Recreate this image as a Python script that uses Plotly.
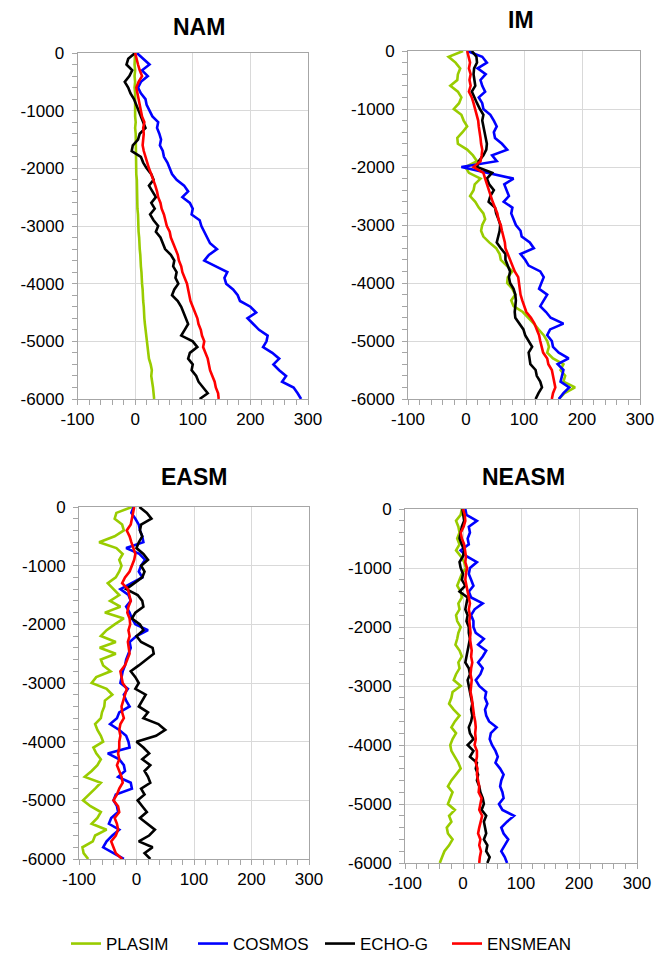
import plotly.graph_objects as go

depth = [-100 * i for i in range(61)]

series_names = ["PLASIM", "COSMOS", "ECHO-G", "ENSMEAN"]
series_colors = ["#99cc00", "#0000ff", "#000000", "#ff0000"]

# ---- NAM ----
nam_plasim = [0, -1, -1, 0, -1, 0, -1, 0, 0, -1, 0,
              0, 1, 0, 1, 1, 1, 2, 1, 2, 2,
              2, 3, 3, 3, 4, 4, 4, 5, 5, 6,
              6, 7, 7, 8, 9, 9, 10, 11, 11, 12,
              13, 13, 14, 15, 15, 16, 17, 18, 19, 21,
              21, 23, 24, 27, 29, 28, 30, 31, 32, 33]
nam_cosmos = [3, 15, 25, 12, 22, 10, 5, 10, 18, 20, 25,
              30, 40, 38, 42, 45, 43, 48, 50, 56, 60,
              64, 72, 85, 92, 82, 95, 100, 98, 112, 115,
              120, 125, 130, 142, 128, 120, 140, 160, 155, 158,
              170, 178, 182, 200, 210, 195, 205, 215, 230, 228,
              222, 238, 250, 240, 250, 262, 255, 275, 282, 288]
nam_echog = [0, -12, -15, -5, -10, -18, -12, -8, -2, 2, 6,
             10, 14, 18, 8, 5, -4, -6, 10, 14, 20,
             28, 32, 24, 30, 36, 28, 34, 26, 32, 40,
             36, 44, 48, 52, 62, 68, 66, 72, 70, 75,
             68, 64, 74, 80, 84, 88, 92, 86, 80, 100,
             108, 95, 92, 100, 98, 106, 110, 118, 126, 112]
nam_ensmean = [0, 2, 5, 8, 12, 6, 2, 4, 6, 8, 9,
               12, 16, 14, 15, 14, 13, 15, 18, 20, 24,
               28, 32, 35, 38, 40, 44, 46, 50, 52, 55,
               60, 62, 66, 70, 74, 76, 80, 82, 86, 90,
               92, 94, 96, 100, 104, 108, 110, 114, 116, 120,
               118, 122, 126, 128, 130, 134, 138, 140, 144, 145]

# ---- IM ----
im_plasim = [-5, -30, -18, -10, -14, -15, -27, -14, -8, -12, -21,
             -8, -4, 2, -6, -15, -14, 2, 12, 19, -1,
             5, 25, 15, 13, 7, 16, 22, 30, 33, 28,
             26, 30, 40, 52, 58, 60, 70, 80, 72, 71,
             80, 85, 78, 82, 98, 108, 117, 125, 134, 140,
             143, 140, 150, 168, 163, 171, 168, 188, 170, 160]
im_cosmos = [2, 28, 36, 20, 34, 25, 28, 33, 22, 28, 30,
             42, 48, 53, 48, 50, 62, 71, 45, 53, -8,
             40, 82, 66, 70, 74, 65, 80, 78, 82, 86,
             94, 96, 110, 117, 94, 102, 108, 128, 134, 130,
             126, 140, 134, 128, 138, 146, 168, 145, 140, 148,
             150, 160, 177, 158, 168, 165, 163, 178, 168, 160]
im_echog = [10, 18, 19, 14, 13, 15, 16, 10, 14, 19, 24,
            30, 28, 30, 33, 34, 36, 35, 30, 22, 19,
            45, 36, 40, 48, 42, 39, 50, 52, 56, 59,
            58, 56, 53, 60, 68, 68, 72, 76, 74, 76,
            82, 85, 86, 85, 84, 85, 92, 99, 102, 108,
            114, 108, 110, 111, 120, 122, 128, 131, 125, 120]
im_ensmean = [2, 5, 7, 5, 8, 6, 8, 5, 10, 13, 16,
              19, 21, 22, 24, 25, 26, 28, 27, 25, 13,
              30, 33, 36, 39, 43, 46, 50, 54, 56, 60,
              62, 65, 67, 68, 72, 76, 80, 84, 90, 91,
              92, 94, 97, 100, 104, 112, 118, 122, 126, 128,
              130, 133, 140, 142, 148, 150, 151, 154, 150, 148]

# ---- EASM ----
easm_plasim = [-8, -35, -38, -25, -22, -38, -65, -35, -24, -30, -26,
               -30, -36, -50, -40, -30, -46, -28, -55, -22, -38,
               -52, -62, -36, -64, -36, -62, -58, -45, -70, -78,
               -52, -42, -55, -56, -60, -62, -72, -68, -62, -58,
               -75, -70, -62, -68, -78, -90, -62, -72, -82, -93,
               -80, -62, -68, -78, -52, -72, -76, -94, -92, -84]
easm_cosmos = [-5, -9, -2, 4, 6, 10, 12, -18, 5, 15, 8,
               4, 10, -10, -28, -14, -10, -18, -12, -8, -2,
               20, 0, -12, -10, -14, -18, -20, -24, -26, -28,
               -15, -22, -18, -12, -30, -34, -46, -30, -18, -14,
               -12, -50, -30, -22, -20, -32, -10, -8, -36, -40,
               -34, -32, -44, -48, -30, -42, -52, -58, -40, -22]
easm_echog = [5, 18, 26, 8, 6, 10, 4, 0, 12, 20, 8,
              14, 10, -5, -18, 2, 10, 12, -2, -8, 6,
              12, 0, 8, 28, 30, 18, 4, -10, -2, 4,
              -2, 16, 10, 4, 20, 12, 38, 50, 34, 0,
              12, 22, 10, 24, 14, 20, 24, 8, 14, 2,
              10, 18, 6, 20, 32, 22, 4, 28, 14, 24]
easm_ensmean = [-4, -6, -8, -10, -17, -12, -9, -6, -2, -4, -8,
                -12, -20, -25, -15, -12, -10, -14, -16, -12, -11,
                -14, -12, -15, -14, -12, -16, -20, -28, -26, -24,
                -17, -20, -24, -26, -25, -22, -28, -30, -28, -30,
                -30, -32, -30, -34, -30, -26, -24, -30, -34, -40,
                -32, -30, -38, -34, -32, -36, -44, -40, -36, -25]

# ---- NEASM ----
neasm_plasim = [-2, -4, -12, -8, -6, -10, -6, -12, -4, 2, 5,
                -2, -6, -10, -4, -2, -8, -6, -12, -10, -4,
                -8, -10, -13, -6, -2, -8, -6, -12, -16, -4,
                -18, -20, -24, -16, -6, -14, -20, -12, -18, -22,
                -20, -14, -8, -4, -12, -20, -26, -18, -22, -26,
                -14, -24, -20, -28, -26, -18, -24, -32, -36, -40]
neasm_cosmos = [4, 6, 24, 10, 12, 8, 10, -4, 6, 24, 12,
                10, 14, 18, 10, 14, 34, 20, 14, 18, 18,
                22, 36, 26, 40, 34, 26, 34, 30, 22, 28,
                40, 38, 42, 38, 40, 45, 58, 48, 46, 50,
                56, 60, 56, 64, 70, 66, 64, 68, 70, 62,
                68, 88, 76, 66, 70, 78, 72, 66, 72, 76]
neasm_echog = [-1, 0, 2, -2, -4, -6, -2, 2, 0, -6, -4,
               0, -2, 4, -6, 8, 6, 4, 8, 6, 10,
               10, 12, 10, 8, 6, 4, 10, 12, 8, 10,
               12, 14, 16, 14, 16, 14, 10, 12, 18, 8,
               18, 12, 24, 22, 26, 24, 28, 30, 34, 36,
               32, 40, 36, 38, 40, 36, 42, 40, 46, 42]
neasm_ensmean = [0, 3, 4, 1, -4, -2, 2, 3, 5, 4, 7,
                 5, 4, 6, 8, 10, 12, 10, 12, 11, 12,
                 13, 12, 13, 15, 14, 16, 14, 13, 15, 14,
                 13, 15, 16, 18, 19, 21, 22, 21, 22, 20,
                 24, 24, 22, 25, 24, 26, 28, 27, 32, 30,
                 28, 33, 30, 28, 26, 30, 28, 31, 29, 28]

panel_titles = ["NAM", "IM", "EASM", "NEASM"]
x_tickvals = [-100, 0, 100, 200, 300]
x_ticktext = ["-100", "0", "100", "200", "300"]
y_tickvals = [0, -1000, -2000, -3000, -4000, -5000, -6000]
y_ticktext = ["0", "-1000", "-2000", "-3000", "-4000", "-5000", "-6000"]

panels = [
    [nam_plasim, nam_cosmos, nam_echog, nam_ensmean],
    [im_plasim, im_cosmos, im_echog, im_ensmean],
    [easm_plasim, easm_cosmos, easm_echog, easm_ensmean],
    [neasm_plasim, neasm_cosmos, neasm_echog, neasm_ensmean],
]

W, H = 667, 955
# plot areas in pixels: (x0, x1, ytop, ybottom)
boxes = [(77.5, 308, 53, 399), (408, 640, 51, 399),
         (79, 309, 507, 859), (405, 637, 509, 863)]
title_pos = [(199, 27), (521, 20), (194, 477), (523, 477)]

fig = go.Figure()
FONT = "Liberation Sans, Arial, sans-serif"

for p, data in enumerate(panels):
    ax = "" if p == 0 else str(p + 1)
    for s in range(4):
        fig.add_trace(go.Scatter(
            x=data[s], y=depth, mode="lines",
            name=series_names[s], legendgroup=series_names[s],
            showlegend=(p == 0),
            line=dict(color=series_colors[s], width=2.6),
            xaxis="x" + ax, yaxis="y" + ax,
        ))
    x0, x1, yt, yb = boxes[p]
    common = dict(showline=True, linecolor="#a6a6a6", linewidth=1, mirror=True,
                  showgrid=True, gridcolor="#d9d9d9", gridwidth=1,
                  zeroline=False, ticks="outside", ticklen=5, tickcolor="#a6a6a6",
                  tickfont=dict(family=FONT, size=17, color="#000000"),
                  automargin=False, fixedrange=True)
    fig.layout["xaxis" + ax] = dict(
        domain=[x0 / W, x1 / W], range=[-100, 300], anchor="y" + ax,
        tickmode="array", tickvals=x_tickvals, ticktext=x_ticktext,
        minor=dict(dtick=20, tick0=0, ticks="outside", ticklen=5,
                   tickcolor="#a6a6a6", showgrid=False),
        **common)
    fig.layout["yaxis" + ax] = dict(
        domain=[1 - yb / H, 1 - yt / H], range=[-6000, 0], anchor="x" + ax,
        tickmode="array", tickvals=y_tickvals, ticktext=y_ticktext,
        minor=dict(dtick=200, tick0=0, ticks="outside", ticklen=5,
                   tickcolor="#a6a6a6", showgrid=False),
        ticklabelstandoff=4,
        **common)
    tx, ty = title_pos[p]
    fig.add_annotation(x=tx / W, y=1 - ty / H, xref="paper", yref="paper",
                       text="<b>" + panel_titles[p] + "</b>", showarrow=False,
                       xanchor="center", yanchor="middle",
                       font=dict(family=FONT, size=23, color="#000000"))

fig.update_layout(
    width=W, height=H,
    margin=dict(l=0, r=0, t=0, b=0, autoexpand=False),
    paper_bgcolor="white", plot_bgcolor="white",
    showlegend=True,
    legend=dict(orientation="h", x=66 / W, xanchor="left",
                y=1 - 944 / H, yanchor="middle",
                entrywidth=82, entrywidthmode="pixels",
                font=dict(family=FONT, size=17, color="#000000"),
                bgcolor="rgba(0,0,0,0)", itemwidth=30),
)

fig.write_html("out.html", config={"displayModeBar": False},
               post_script="document.body.style.margin='0';document.body.style.overflow='hidden';")
